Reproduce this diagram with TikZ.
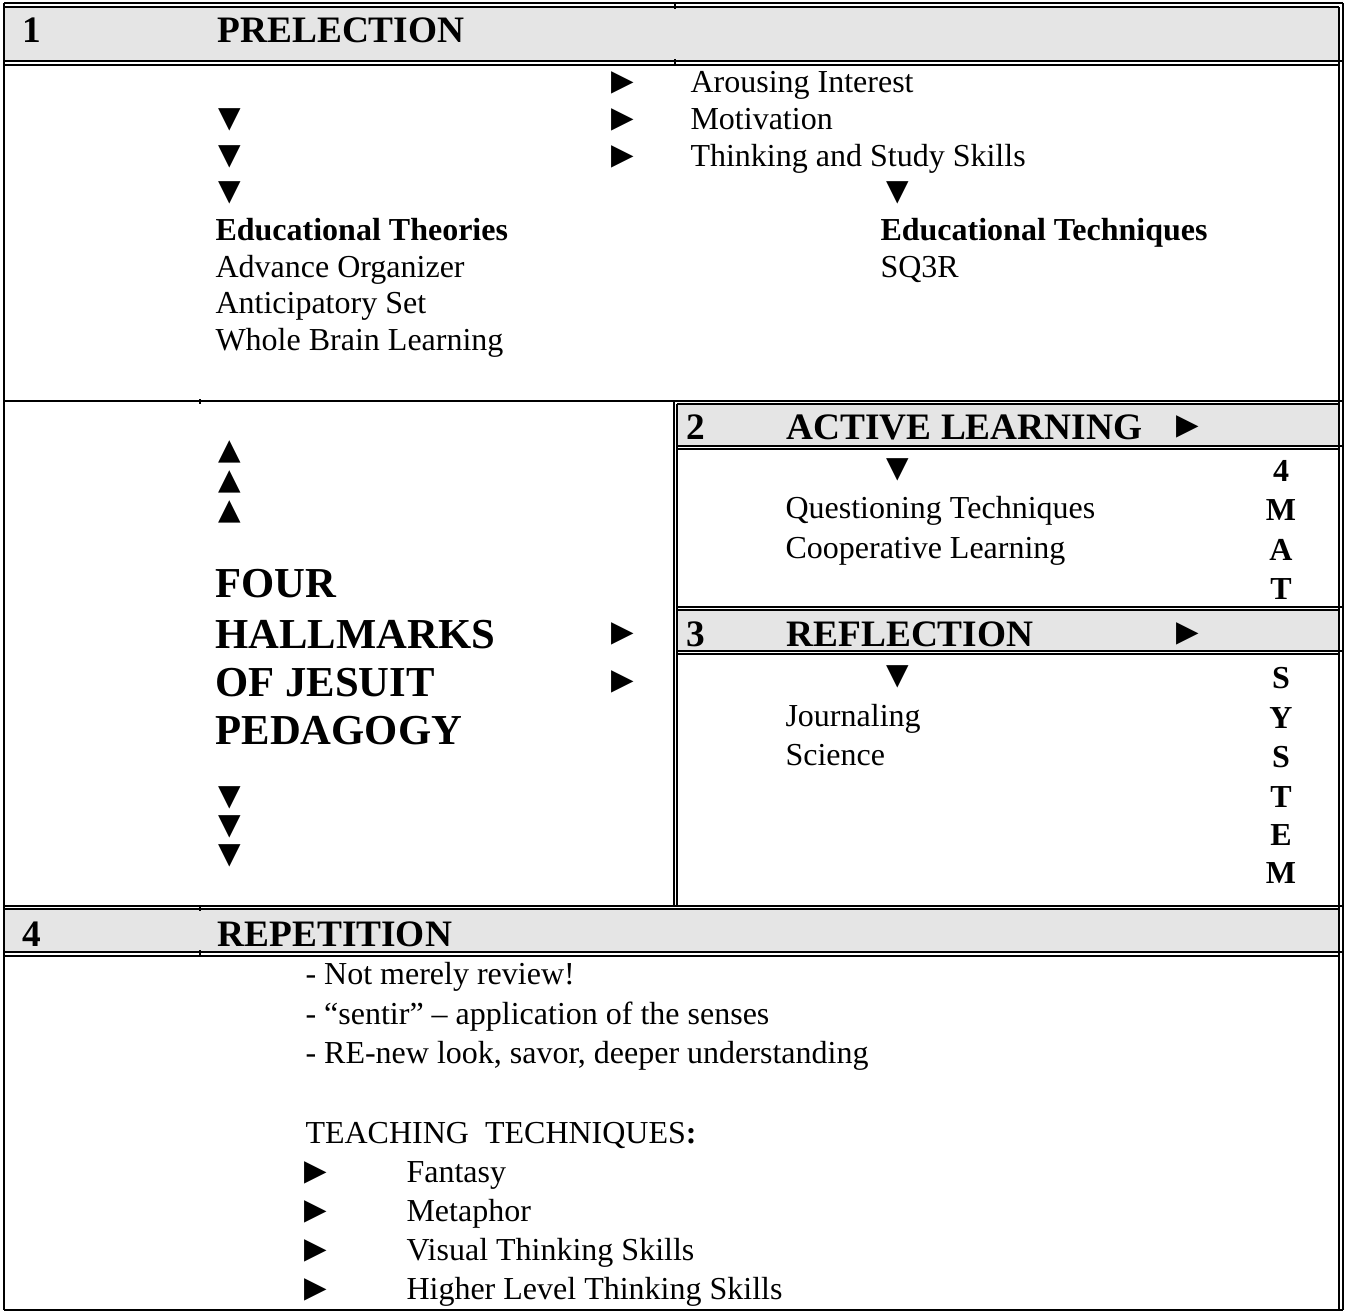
\documentclass[tikz,border=0pt]{standalone}
\usepackage{fontspec}
\setmainfont{Liberation Serif}
\newfontfamily\symfont{DejaVu Sans}
\begin{document}
\begin{tikzpicture}[x=0.375pt,y=-0.375pt,
  txt/.style={anchor=base west, inner sep=0pt, font=\fontsize{12}{14}\selectfont},
  btxt/.style={anchor=base west, inner sep=0pt, font=\fontsize{12}{14}\selectfont\bfseries},
  hdr/.style={anchor=base west, inner sep=0pt, font=\fontsize{14}{16}\selectfont\bfseries},
  bigtxt/.style={anchor=base west, inner sep=0pt, font=\fontsize{16}{18}\selectfont\bfseries},
  vlet/.style={anchor=base, inner sep=0pt, font=\fontsize{12}{14}\selectfont\bfseries},
  tri/.style={anchor=center, inner sep=0pt, font=\symfont\fontsize{11}{11}\selectfont},
  rtri/.style={anchor=center, inner sep=0pt, font=\symfont\fontsize{11}{11}\selectfont},
  hfill/.style={fill=black!10, draw=none},
  thick line/.style={line width=1pt},
  thin line/.style={line width=0.45pt}]
\useasboundingbox (0,0) rectangle (1346,1311);
% gray header bands
\fill[hfill] (5,7) rectangle (1339,60);
\fill[hfill] (677,404) rectangle (1339,445);
\fill[hfill] (677,610) rectangle (1339,650);
\fill[hfill] (5,909) rectangle (1339,951);
% outer frame
\draw[thick line] (4,3) -- (1343,3);
\draw[thin line] (4,7) -- (1339,7);
\draw[thick line] (4,3) -- (4,1310);
\draw[thick line] (1343,3) -- (1343,1310);
\draw[thin line] (1339,7) -- (1339,1310);
\draw[thick line] (4,1310) -- (1343,1310);
% horizontal separators (thick + thin)
\draw[thick line] (4,61) -- (1343,61);
\draw[thin line] (4,65) -- (1339,65);
\draw[thick line] (4,401) -- (1343,401);
\draw[thin line] (677,404) -- (1339,404);
\draw[thick line] (677,446) -- (1343,446);
\draw[thin line] (677,449) -- (1339,449);
\draw[thick line] (677,607) -- (1343,607);
\draw[thin line] (677,610) -- (1339,610);
\draw[thick line] (677,651) -- (1343,651);
\draw[thin line] (677,654) -- (1339,654);
\draw[thick line] (4,906) -- (1343,906);
\draw[thin line] (4,909) -- (1339,909);
\draw[thick line] (4,952) -- (1343,952);
\draw[thin line] (4,956) -- (1339,956);
% middle vertical divider
\draw[thick line] (674,401) -- (674,906);
\draw[thin line] (677,404) -- (677,906);
% small ticks
\draw[thin line] (675,3) -- (675,9);
\draw[thin line] (675,59) -- (675,66);
\draw[thin line] (200,399) -- (200,404);
\draw[thin line] (200,905) -- (200,911);
\draw[thin line] (200,950) -- (200,957);

% ---- 1 PRELECTION ----
\node[hdr] (n1) at (22,42) {1};
\node[hdr] (h1) at (217,42) {PRELECTION};
\node[rtri] (ra1) at (623,83) {▶};
\node[rtri] (ra2) at (623,120) {▶};
\node[rtri] (ra3) at (623,157) {▶};
\node[txt] (ai) at (690,92) {Arousing Interest};
\node[txt] (mo) at (690,129) {Motivation};
\node[txt] (ts) at (690,166) {Thinking and Study Skills};
\node[tri] (ld1) at (230,120) {▼};
\node[tri] (ld2) at (230,157) {▼};
\node[tri] (ld3) at (230,193) {▼};
\node[tri] (rd1) at (898,193) {▼};
\node[btxt] (et) at (215,240) {Educational Theories};
\node[btxt] (etq) at (880,240) {Educational Techniques};
\node[txt] (ao) at (215,277) {Advance Organizer};
\node[txt] (sq) at (880,277) {SQ3R};
\node[txt] (as) at (215,313) {Anticipatory Set};
\node[txt] (wb) at (215,350) {Whole Brain Learning};

% ---- 2 ACTIVE LEARNING ----
\node[hdr] (n2) at (686,439) {2};
\node[hdr] (h2) at (786,439) {ACTIVE LEARNING};
\node[rtri] (h2a) at (1188,427) {▶};
\node[tri] (ad) at (898,470) {▼};
\node[txt] (qt) at (785,518) {Questioning Techniques};
\node[txt] (cl) at (785,558) {Cooperative Learning};
\node[vlet] (v1) at (1281,481) {4};
\node[vlet] (v2) at (1281,520) {M};
\node[vlet] (v3) at (1281,560) {A};
\node[vlet] (v4) at (1281,599) {T};

% ---- 3 REFLECTION ----
\node[hdr] (n3) at (686,646) {3};
\node[hdr] (h3) at (786,646) {REFLECTION};
\node[rtri] (h3a) at (1188,634) {▶};
\node[tri] (rfd) at (898,677) {▼};
\node[txt] (jo) at (785,726) {Journaling};
\node[txt] (sc) at (785,765) {Science};
\node[vlet] (s1) at (1281,688) {S};
\node[vlet] (s2) at (1281,728) {Y};
\node[vlet] (s3) at (1281,767) {S};
\node[vlet] (s4) at (1281,807) {T};
\node[vlet] (s5) at (1281,845) {E};
\node[vlet] (s6) at (1281,883) {M};

% ---- left: four hallmarks ----
\node[tri] (up1) at (230,452) {▲};
\node[tri] (up2) at (230,482) {▲};
\node[tri] (up3) at (230,512) {▲};
\node[bigtxt] (f1) at (215,597) {FOUR};
\node[bigtxt] (f2) at (215,648) {HALLMARKS};
\node[bigtxt] (f3) at (215,696) {OF JESUIT};
\node[bigtxt] (f4) at (215,744) {PEDAGOGY};
\node[rtri] (fa1) at (623,634) {▶};
\node[rtri] (fa2) at (623,682) {▶};
\node[tri] (dn1) at (230,798) {▼};
\node[tri] (dn2) at (230,827) {▼};
\node[tri] (dn3) at (230,856) {▼};

% ---- 4 REPETITION ----
\node[hdr] (n4) at (22,946) {4};
\node[hdr] (h4) at (217,946) {REPETITION};
\node[txt] (r1) at (305,984) {- Not merely review!};
\node[txt] (r2) at (305,1024) {- “sentir” – application of the senses};
\node[txt] (r3) at (305,1063) {- RE-new look, savor, deeper understanding};
\node[txt] (tt) at (305,1143) {TEACHING\ \ TECHNIQUES\textbf{:}};
\node[rtri] (b1) at (316,1173) {▶};
\node[rtri] (b2) at (316,1212) {▶};
\node[rtri] (b3) at (316,1251) {▶};
\node[rtri] (b4) at (316,1290) {▶};
\node[txt] (t1) at (406,1182) {Fantasy};
\node[txt] (t2) at (406,1221) {Metaphor};
\node[txt] (t3) at (406,1260) {Visual Thinking Skills};
\node[txt] (t4) at (406,1299) {Higher Level Thinking Skills};
\end{tikzpicture}
\end{document}
